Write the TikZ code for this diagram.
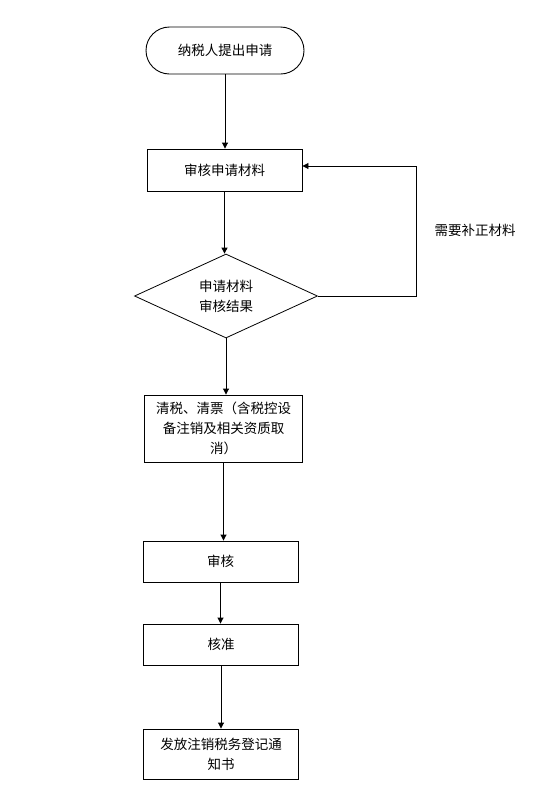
\documentclass[tikz,border=0pt]{standalone}
\usepackage{fontspec}
\newfontfamily\cjk{Noto Sans CJK SC}
\usetikzlibrary{shapes.geometric,shapes.misc,arrows.meta}
\begin{document}
\begin{tikzpicture}[x=1pt,y=-1pt,
  every node/.style={font=\cjk\fontsize{13.5}{20}\selectfont, text=black},
  proc/.style={draw, line width=0.9pt, rectangle, inner sep=0pt, align=center, minimum width=155pt},
  term/.style={draw, line width=0.9pt, rounded rectangle, inner sep=0pt, minimum width=158pt, minimum height=47pt},
  dec/.style={draw, line width=0.8pt, diamond, inner sep=0pt, aspect=2.18, minimum width=183pt, minimum height=84pt, align=center},
  arr/.style={line width=0.9pt, -{Triangle[length=6pt,width=6pt]}},
  ln/.style={line width=0.9pt}]
\useasboundingbox (0,0) rectangle (556,796);
\node[term] (start) at (225,50.5) {纳税人提出申请};
\node[proc, minimum height=42pt] (b2) at (224.5,170) {审核申请材料};
\node[dec] (d) at (226,296) {申请材料\\审核结果};
\node[proc, minimum width=158pt, minimum height=67pt] (b3) at (223.5,428.5) {清税、清票（含税控设\\备注销及相关资质取\\消）};
\node[proc, minimum height=41pt] (b4) at (220.5,561.5) {审核};
\node[proc, minimum height=41pt] (b5) at (221,644.5) {核准};
\node[proc, minimum height=50pt] (b6) at (221,754) {发放注销税务登记通\\知书};
\coordinate (fb) at (416,166);
\node (lbl) at (475,230) {需要补正材料};
\draw[arr] (start.south) -- (start.south |- b2.north);
\draw[arr] (b2.south) -- (b2.south |- d.north);
\draw[arr] (d.south) -- (d.south |- b3.north);
\draw[arr] (b3.south) -- (b3.south |- b4.north);
\draw[arr] (b4.south) -- (b4.south |- b5.north);
\draw[arr] (b5.south) -- (b5.south |- b6.north);
\draw[arr] (d.east) -| (fb) -- (b2.east |- fb);
\end{tikzpicture}
\end{document}
